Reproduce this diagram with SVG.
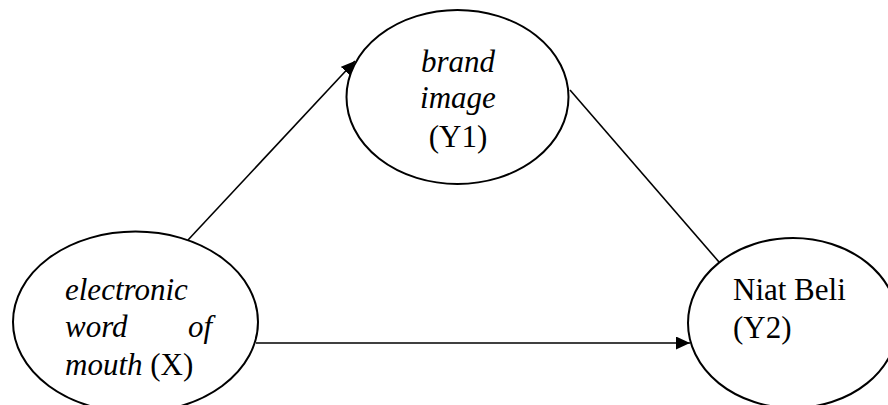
<svg xmlns="http://www.w3.org/2000/svg" width="888" height="405" viewBox="0 0 888 405">
<defs>
<style>
.node ellipse{fill:#fff;stroke:#000;stroke-width:2}
.t{font-family:"Liberation Serif","Times New Roman",serif;font-size:31px;fill:#000}
.i{font-style:italic}
.c{text-anchor:middle}
.edge{stroke:#000;stroke-width:1.6;fill:none}
</style>
<marker id="arr" markerUnits="userSpaceOnUse" markerWidth="15" markerHeight="13" refX="14" refY="6.5" orient="auto">
<path d="M0,0 L14,6.5 L0,13 z" fill="#000"/>
</marker>
</defs>
<rect width="888" height="405" fill="#fff"/>
<g id="connectors">
<path class="edge" d="M188,240 L355,61" marker-end="url(#arr)"/>
<path class="edge" d="M256,343 L690,343" marker-end="url(#arr)"/>
<path class="edge" d="M570,90 L719,262"/>
</g>
<g id="node-brand-image" class="node">
<ellipse cx="457.5" cy="97" rx="111" ry="87"/>
<text class="t i c" x="458" y="72">brand</text>
<text class="t i c" x="458" y="108">image</text>
<text class="t c" x="458" y="147">(Y1)</text>
</g>
<g id="node-ewom" class="node">
<ellipse cx="135.5" cy="322" rx="122.5" ry="90.5"/>
<text class="t i" x="65" y="300">electronic</text>
<text class="t i" x="65" y="337">word</text>
<text class="t i" x="188" y="337">of</text>
<text class="t" x="65" y="375"><tspan class="i">mouth</tspan> (X)</text>
</g>
<g id="node-niat-beli" class="node">
<ellipse cx="793" cy="323" rx="105" ry="85"/>
<text class="t" x="733" y="300">Niat Beli</text>
<text class="t" x="733" y="338">(Y2)</text>
</g>
</svg>
